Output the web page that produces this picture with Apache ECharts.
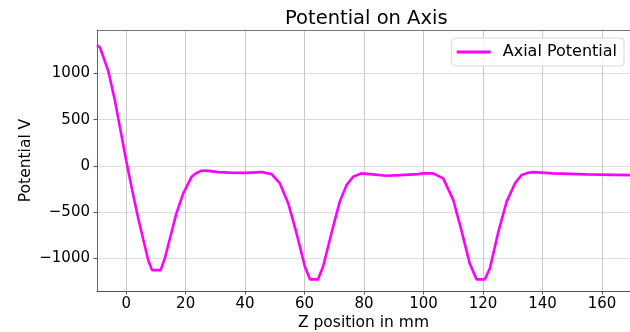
<!DOCTYPE html>
<html>
<head>
<meta charset="utf-8">
<script src="https://cdn.jsdelivr.net/npm/echarts@6/dist/echarts.min.js"></script>
<style>
html,body{margin:0;padding:0;background:#fff;}
#chart{width:630px;height:332px;}
</style>
</head>
<body>
<div id="chart"></div>
<script>
const zPosition = [-9.8, -8.8, -6.0, -3.8, -1.9, 0, 2, 4, 6, 7.4, 8.7, 11.6, 13.0, 15, 16.9, 19.2, 22, 23.5, 25.3, 27, 31, 35, 40, 45.5, 48.9, 51.7, 54.5, 57.3, 60.1, 61.8, 64.5, 66.2, 69, 71.8, 74.1, 76.3, 79.1, 81.9, 87.5, 92, 98.2, 99.8, 103.2, 106.6, 110, 112.7, 115.5, 117.8, 120.6, 122.3, 125, 127.9, 130.7, 132.9, 135.1, 136.8, 143.5, 154.7, 169.4];
const axialPotential = [1306, 1281, 1025, 710, 386, 60, -260, -560, -830, -1020, -1129, -1129, -1002, -752, -515, -299, -119, -80, -54, -52, -68, -74, -76, -68, -90, -191, -407, -732, -1093, -1229, -1229, -1093, -732, -390, -209, -119, -82, -90, -108, -101, -90, -82, -82, -136, -371, -696, -1056, -1229, -1229, -1110, -732, -390, -191, -101, -76, -68, -82, -93, -101];
const xTicks = [0, 20, 40, 60, 80, 100, 120, 140, 160];
const yTicks = [-1000, -500, 0, 500, 1000];
const seriesName = 'Axial Potential';
const chartTitle = 'Potential on Axis';
const xLabel = 'Z position in mm';
const yLabel = 'Potential V';

const FONT = 'DejaVu Sans';
const chart = echarts.init(document.getElementById('chart'), null, {renderer: 'canvas'});
const data = zPosition.map((z, i) => [z, axialPotential[i]]);

chart.setOption({
  animation: false,
  backgroundColor: '#ffffff',
  title: {
    text: chartTitle,
    left: 285, top: 9, padding: 0,
    textStyle: {fontFamily: FONT, fontSize: 19.5, fontWeight: 'normal', color: '#000'}
  },
  legend: {
    right: 6, top: 38,
    padding: [6, 7, 6, 5],
    backgroundColor: 'rgba(255,255,255,0.8)',
    borderColor: '#d8d8d8', borderWidth: 1, borderRadius: 3,
    itemWidth: 34, itemHeight: 3,
    data: [{name: seriesName, icon: 'rect'}],
    textStyle: {fontFamily: FONT, fontSize: 16, color: '#000', padding: [0, 0, 0, 7]}
  },
  grid: {left: 97, top: 30, right: 0, bottom: 41, containLabel: false, outerBoundsMode: 'none'},
  xAxis: [{
    type: 'value', min: -9.8, max: 169.4,
    name: xLabel, nameLocation: 'middle', nameGap: 24, nameMoveOverlap: false,
    nameTextStyle: {fontFamily: FONT, fontSize: 15.5, color: '#000'},
    axisLine: {show: true, onZero: false, lineStyle: {color: '#555', width: 1}},
    axisTick: {show: true, inside: false, length: 3.5, customValues: xTicks, lineStyle: {color: '#555'}},
    axisLabel: {fontFamily: FONT, fontSize: 15, color: '#000', margin: 6, customValues: xTicks},
    splitLine: {show: true, lineStyle: {color: '#c8c8c8', width: 1}}
  }, {
    type: 'value', position: 'top', min: -9.8, max: 169.4,
    axisLine: {show: true, onZero: false, lineStyle: {color: '#777', width: 1}},
    axisTick: {show: false}, axisLabel: {show: false}, splitLine: {show: false}
  }],
  yAxis: {
    type: 'value', min: -1355, max: 1470,
    name: yLabel, nameLocation: 'middle', nameGap: 63, nameRotate: 90, nameMoveOverlap: false,
    nameTextStyle: {fontFamily: FONT, fontSize: 15.5, color: '#000'},
    axisLine: {show: true, onZero: false, lineStyle: {color: '#666', width: 1}},
    axisTick: {show: true, inside: false, length: 3.5, customValues: yTicks, lineStyle: {color: '#555'}},
    axisLabel: {fontFamily: FONT, fontSize: 15, color: '#000', margin: 7, customValues: yTicks,
      formatter: v => String(v).replace('-', '\u2212')},
    splitLine: {show: true, lineStyle: {color: '#dcdcdc', width: 1}}
  },
  series: [{
    name: seriesName, type: 'line', xAxisIndex: 0, data: data,
    showSymbol: false, symbol: 'none', smooth: false,
    lineStyle: {color: '#ff00ff', width: 2.6},
    itemStyle: {color: '#ff00ff'}
  }]
});
</script>
</body>
</html>
